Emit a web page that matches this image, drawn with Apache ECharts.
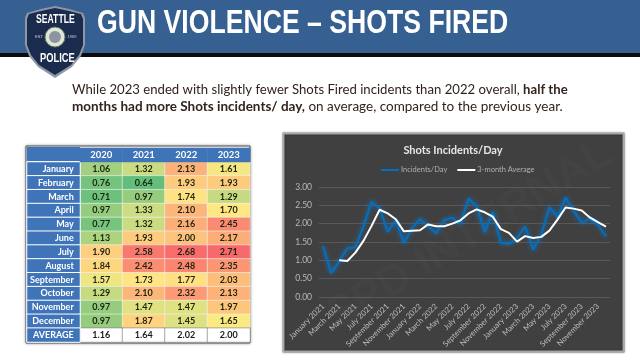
<!DOCTYPE html>
<html>
<head>
<meta charset="utf-8">
<style>html,body{margin:0;padding:0;background:#fff}#main{width:640px;height:360px}</style>
<script src="https://cdn.jsdelivr.net/npm/echarts@6/dist/echarts.min.js"></script>
</head>
<body>
<div id="main"></div>
<script>
var years = ['2020', '2021', '2022', '2023'];
var months = ['January', 'February', 'March', 'April', 'May', 'June', 'July', 'August', 'September', 'October', 'November', 'December'];
var avgLabel = 'AVERAGE';
var y2020 = [1.06, 0.76, 0.71, 0.97, 0.77, 1.13, 1.90, 1.84, 1.57, 1.29, 0.97, 0.97];
var y2021 = [1.32, 0.64, 0.97, 1.33, 1.32, 1.93, 2.58, 2.42, 1.73, 2.10, 1.47, 1.87];
var y2022 = [2.13, 1.93, 1.74, 2.10, 2.16, 2.00, 2.68, 2.48, 1.77, 2.32, 1.47, 1.45];
var y2023 = [1.61, 1.93, 1.29, 1.70, 2.45, 2.17, 2.71, 2.35, 2.03, 2.13, 1.97, 1.65];
var averages = [1.16, 1.64, 2.02, 2.00];
var lineMonths = [];
['2021', '2022', '2023'].forEach(function (y) {
    months.forEach(function (m) { lineMonths.push(m + ' ' + y); });
});
var incidents = [1.38, 0.65, 0.97, 1.33, 1.35, 1.93, 2.60, 2.42, 1.78, 2.10, 1.47, 1.87, 2.13, 1.93, 1.74, 2.10, 2.16, 2.00, 2.68, 2.48, 1.77, 2.32, 1.47, 1.45, 1.61, 1.93, 1.29, 1.70, 2.45, 2.17, 2.71, 2.35, 2.03, 2.13, 1.97, 1.65];
var threeMonthAvg = [null, null, 1.00, 0.98, 1.21, 1.53, 1.94, 2.38, 2.28, 2.12, 1.79, 1.81, 1.82, 1.98, 1.93, 1.93, 2.00, 2.09, 2.28, 2.39, 2.31, 2.19, 1.85, 1.75, 1.51, 1.66, 1.61, 1.64, 1.81, 2.11, 2.44, 2.41, 2.36, 2.17, 2.04, 1.92];

var myChart = echarts.init(document.getElementById('main'));
var sans = 'Lato';

var cells = [];
[y2020, y2021, y2022, y2023].forEach(function (col, x) {
    col.forEach(function (v, i) { cells.push([x, i, v]); });
});
var avgCells = averages.map(function (v, x) { return [x, 12, v]; });
var rowNames = months.concat([avgLabel]);

function hiddenCat(data, idx, inverse) {
    return {
        type: 'category', gridIndex: idx, data: data, inverse: !!inverse,
        axisLine: { show: false }, axisTick: { show: false }, axisLabel: { show: false }, splitLine: { show: false }
    };
}

var option = {
    backgroundColor: '#fff',
    animation: false,
    textStyle: { fontFamily: sans },
    graphic: [
        // banner
        { type: 'rect', z: 0, shape: { x: 0, y: 0, width: 640, height: 53 }, style: { fill: '#366092' } },
        { type: 'rect', z: 0, shape: { x: 0, y: 53, width: 640, height: 4 }, style: { fill: '#0c0c0c' } },
        { type: 'text', z: 1, x: 97, y: 24, scaleX: 0.807, style: { text: 'GUN VIOLENCE – SHOTS FIRED', fill: '#fff', font: 'bold 33px "Liberation Sans"', verticalAlign: 'middle' } },
        // badge
        { type: 'polygon', z: 2, shape: { points: [[55, 6], [41, 9], [27, 13], [25, 18], [25, 45], [29, 56], [38, 67], [55, 78], [72, 67], [81, 56], [85, 45], [85, 18], [83, 13], [69, 9]] }, style: { fill: '#8d97a6' } },
        { type: 'polygon', z: 3, shape: { points: [[55, 8], [41, 11], [29, 14], [27, 19], [27, 45], [31, 55], [39, 65], [55, 75], [71, 65], [79, 55], [83, 45], [83, 19], [81, 14], [69, 11]] }, style: { fill: '#1b2b4d' } },
        { type: 'circle', z: 4, shape: { cx: 55, cy: 37, r: 10 }, style: { fill: '#dfe6d8', stroke: '#5f7f55', lineWidth: 1 } },
        { type: 'circle', z: 5, shape: { cx: 55, cy: 37, r: 6 }, style: { fill: '#8b95a0' } },
        { type: 'text', z: 5, x: 36, y: 20, scaleX: 0.72, style: { text: 'SEATTLE', fill: '#fff', font: 'bold 12px "Liberation Sans"', verticalAlign: 'middle' } },
        { type: 'text', z: 5, x: 40, y: 58, scaleX: 0.72, style: { text: 'POLICE', fill: '#fff', font: 'bold 13px "Liberation Sans"', verticalAlign: 'middle' } },
        { type: 'text', z: 5, x: 39, y: 37, style: { text: 'EST', fill: '#cfd5de', font: '4px "Liberation Sans"', align: 'center', verticalAlign: 'middle' } },
        { type: 'text', z: 5, x: 72, y: 37, style: { text: '1969', fill: '#cfd5de', font: '4px "Liberation Sans"', align: 'center', verticalAlign: 'middle' } },
        // intro text
        { type: 'text', z: 1, x: 72, y: 90, style: {
            text: '{n|While 2023 ended with slightly fewer Shots Fired incidents than 2022 overall, }{b|half the}',
            verticalAlign: 'middle',
            rich: { n: { font: '13.15px Lato', fill: '#33231c' }, b: { font: 'bold 13.15px Lato', fill: '#33231c' } }
        } },
        { type: 'text', z: 1, x: 72, y: 107, style: {
            text: '{b|months had more Shots incidents/ day,}{n| on average, compared to the previous year.}',
            verticalAlign: 'middle',
            rich: { n: { font: '13.5px Lato', fill: '#33231c' }, b: { font: 'bold 13.5px Lato', fill: '#33231c' } }
        } },
        // table frame
        { type: 'rect', z: 0, shape: { x: 26, y: 146, width: 224, height: 197 }, style: { fill: '#fff', stroke: '#555', lineWidth: 1, shadowBlur: 3, shadowColor: 'rgba(0,0,0,0.35)' } },
        { type: 'rect', z: 1, shape: { x: 27, y: 147, width: 53, height: 14 }, style: { fill: '#3f74b8' } },
        // chart panel
        { type: 'rect', z: 0, shape: { x: 283.5, y: 133.5, width: 340, height: 218 }, style: { fill: '#404040', stroke: '#a6a6a6', lineWidth: 2, shadowBlur: 2, shadowColor: 'rgba(0,0,0,0.4)' } },
        // watermark
        { type: 'text', z: 1, x: 470, y: 235, rotation: 0.55, style: { text: 'SPD INTERNAL', fill: 'rgba(255,255,255,0.02)', font: 'bold 44px "Liberation Sans"', align: 'center', verticalAlign: 'middle' } }
    ],
    title: {
        text: 'Shots Incidents/Day', left: 448, top: 140, textAlign: 'center',
        textStyle: { color: '#e6e6e6', fontFamily: sans, fontSize: 11, fontWeight: 'bold' }
    },
    legend: {
        left: 381, top: 166, padding: 0, itemWidth: 18, itemHeight: 2, itemGap: 10,
        textStyle: { color: '#b0b0b0', fontFamily: sans, fontSize: 7.5, padding: [0, 0, 0, -3] },
        icon: 'rect',
        data: ['Incidents/Day', '3-month Average']
    },
    visualMap: {
        show: false, seriesIndex: 0, dimension: 2, min: 0.64, max: 2.71,
        inRange: { color: ['#63BE7B', '#FFEB84', '#F8696B'] }
    },
    grid: [
        { left: 80, top: 162, width: 170, height: 180 },
        { left: 27, top: 162, width: 53, height: 180 },
        { left: 80, top: 148, width: 170, height: 14 },
        { left: 319, top: 187, width: 291, height: 110 }
    ],
    xAxis: [
        hiddenCat(years, 0),
        hiddenCat(['m'], 1),
        hiddenCat(years, 2),
        {
            type: 'category', gridIndex: 3, data: lineMonths,
            axisLine: { show: false }, axisTick: { show: false },
            axisLabel: { color: '#bdbdbd', fontFamily: sans, fontSize: 7.8, rotate: 45, interval: 1, margin: 8 }
        }
    ],
    yAxis: [
        hiddenCat(rowNames, 0, true),
        hiddenCat(rowNames, 1, true),
        hiddenCat(['h'], 2),
        {
            type: 'value', gridIndex: 3, min: 0, max: 3, interval: 0.5,
            axisLine: { show: false }, axisTick: { show: false },
            axisLabel: { color: '#b8b8b8', fontFamily: sans, fontSize: 8.5, margin: 7, formatter: function (v) { return v.toFixed(2); } },
            splitLine: { lineStyle: { color: '#595959', width: 1 } }
        }
    ],
    series: [
        {
            type: 'heatmap', xAxisIndex: 0, yAxisIndex: 0, data: cells,
            itemStyle: { borderColor: '#f4f4f4', borderWidth: 0.6 },
            label: { show: true, color: '#1c2410', fontFamily: sans, fontSize: 9, fontWeight: 'bold', formatter: function (p) { return p.value[2].toFixed(2); } }
        },
        {
            type: 'heatmap', xAxisIndex: 0, yAxisIndex: 0, data: avgCells,
            itemStyle: { color: '#fff', borderColor: '#777', borderWidth: 0.6 },
            label: { show: true, color: '#1a1a1a', fontFamily: sans, fontSize: 9, fontWeight: 'bold', formatter: function (p) { return p.value[2].toFixed(2); } }
        },
        {
            type: 'heatmap', xAxisIndex: 1, yAxisIndex: 1,
            data: rowNames.map(function (m, i) { return [0, i, 1]; }),
            itemStyle: { color: '#3f74b8', borderColor: '#fff', borderWidth: 1 },
            label: {
                show: true, position: 'insideRight', distance: 7, color: '#fff', fontFamily: sans, fontSize: 9, fontWeight: 'bold',
                formatter: function (p) { return rowNames[p.value[1]]; }
            }
        },
        {
            type: 'heatmap', xAxisIndex: 2, yAxisIndex: 2,
            data: years.map(function (y, i) { return [i, 0, 1]; }),
            itemStyle: { color: '#3f74b8' },
            label: { show: true, color: '#fff', fontFamily: sans, fontSize: 9.5, fontWeight: 'bold', formatter: function (p) { return years[p.value[0]]; } }
        },
        {
            name: 'Incidents/Day', type: 'line', xAxisIndex: 3, yAxisIndex: 3, data: incidents,
            showSymbol: false, symbol: 'none', itemStyle: { color: '#0070c0' },
            lineStyle: { color: '#0070c0', width: 2, shadowColor: 'rgba(0,140,255,0.7)', shadowBlur: 5 }
        },
        {
            name: '3-month Average', type: 'line', xAxisIndex: 3, yAxisIndex: 3, data: threeMonthAvg,
            showSymbol: false, symbol: 'none', itemStyle: { color: '#fff' },
            lineStyle: { color: '#fff', width: 2 }
        }
    ]
};

myChart.setOption(option);
</script>
</body>
</html>
